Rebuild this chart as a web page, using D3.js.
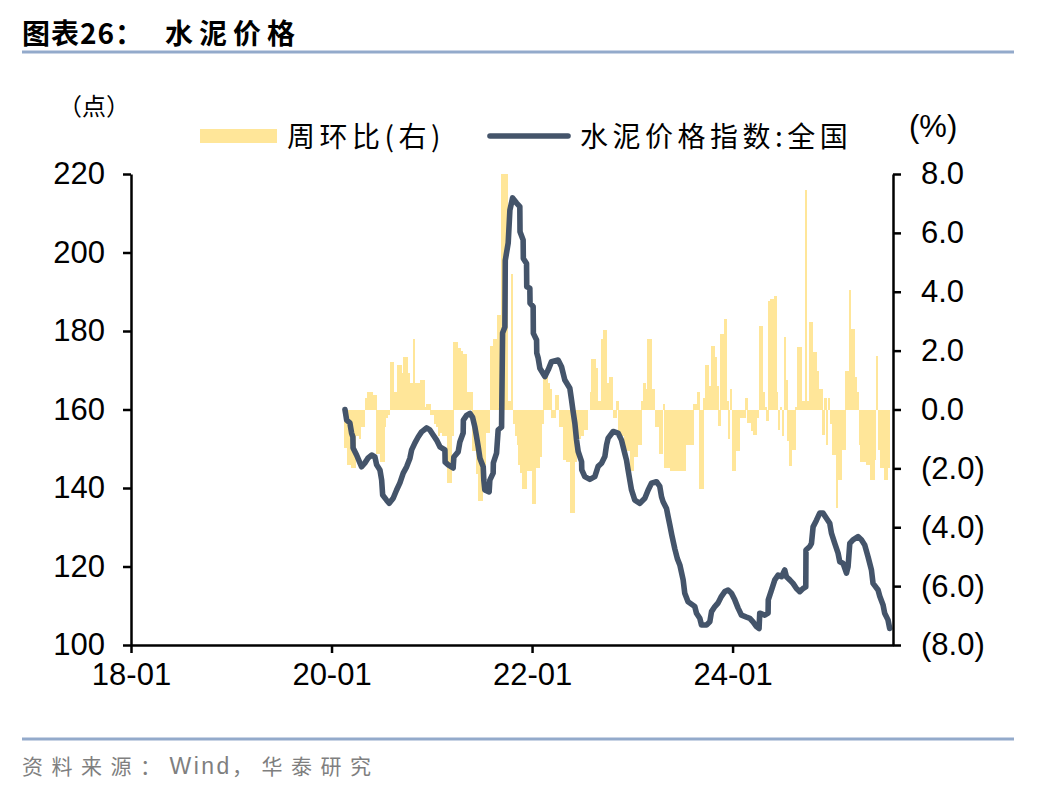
<!DOCTYPE html>
<html><head><meta charset="utf-8">
<script src="https://cdn.jsdelivr.net/npm/d3@7"></script>
<style>
html,body{margin:0;padding:0;background:#fff;}
svg{display:block;}
</style></head>
<body>
<svg id="chart" width="1048" height="792"></svg>
<script>
// ---------- DATA ----------
const titleText = "图表26：";
const titleText2 = "水泥价格";
const sourceParts = ["资料来源：", "Wind", "，华泰研究"];
const legendBarLabel = "周环比(右)";
const legendLineLabel = "水泥价格指数:全国";
const leftUnit = "（点）";
const rightUnit = "(%)";

const xTickYears = [2018, 2020, 2022, 2024];
const leftTicks = [100, 120, 140, 160, 180, 200, 220];
const rightTicks = [-8, -6, -4, -2, 0, 2, 4, 6, 8];

// cement price index (decimal year, value)
const lineDates = [2020.134,2020.151,2020.183,2020.200,2020.213,2020.215,2020.250,2020.283,2020.300,2020.333,2020.363,2020.400,2020.433,2020.450,2020.483,2020.500,2020.510,2020.549,2020.575,2020.615,2020.649,2020.682,2020.715,2020.749,2020.782,2020.799,2020.832,2020.864,2020.898,2020.948,2020.981,2021.014,2021.048,2021.081,2021.131,2021.133,2021.164,2021.213,2021.220,2021.263,2021.280,2021.313,2021.315,2021.347,2021.380,2021.407,2021.430,2021.447,2021.463,2021.480,2021.513,2021.519,2021.529,2021.572,2021.579,2021.612,2021.614,2021.646,2021.662,2021.696,2021.706,2021.729,2021.733,2021.762,2021.779,2021.806,2021.846,2021.878,2021.880,2021.911,2021.913,2021.945,2021.947,2021.978,2021.980,2022.011,2022.013,2022.045,2022.047,2022.061,2022.078,2022.128,2022.161,2022.194,2022.260,2022.294,2022.327,2022.377,2022.394,2022.410,2022.427,2022.444,2022.460,2022.494,2022.496,2022.526,2022.576,2022.626,2022.659,2022.693,2022.726,2022.743,2022.759,2022.809,2022.858,2022.892,2022.925,2022.942,2022.958,2022.975,2022.992,2023.025,2023.075,2023.125,2023.158,2023.191,2023.241,2023.274,2023.291,2023.307,2023.341,2023.357,2023.374,2023.394,2023.424,2023.449,2023.474,2023.507,2023.523,2023.556,2023.623,2023.640,2023.673,2023.690,2023.740,2023.773,2023.790,2023.823,2023.855,2023.889,2023.922,2023.955,2023.989,2024.022,2024.055,2024.089,2024.139,2024.172,2024.204,2024.238,2024.264,2024.271,2024.321,2024.354,2024.356,2024.388,2024.421,2024.454,2024.488,2024.520,2024.537,2024.570,2024.603,2024.637,2024.670,2024.703,2024.730,2024.732,2024.770,2024.787,2024.803,2024.837,2024.869,2024.902,2024.936,2024.969,2024.986,2025.019,2025.052,2025.069,2025.102,2025.136,2025.152,2025.169,2025.201,2025.251,2025.285,2025.318,2025.351,2025.385,2025.401,2025.451,2025.468,2025.501,2025.517,2025.550,2025.567];
const lineValues = [160,157.3,156.6,154,153,150.2,148.4,146.4,145.4,146.4,147.6,148.4,147.9,145.9,144.6,142,138.2,136.9,136.1,137.4,139.5,141.3,143.8,145.4,147.6,149.7,151.5,153,154.3,155.3,154.8,153.5,152.2,150.5,149.7,146.6,145.9,145.1,147.9,149.2,151.7,154,157.3,158.5,159,158,155.5,153,150.5,147.6,145.4,142,139.5,139,142,143.8,146.4,148.9,154.8,155.5,179.5,181,198,202.4,210.8,213.9,212.6,211.7,205.3,203.2,198.5,197.2,191.3,190.9,187.1,186.2,179.4,177.7,174.4,173.1,170.5,168.4,170.1,172.2,172.6,170.9,167.5,165.4,162.4,159.4,156.5,152.2,149.3,146.7,144.6,142.9,142.2,142.9,145.5,146.3,148,151,152.7,154.4,154,152.2,148.8,147.1,144.6,142,139.5,136.9,136.1,137.4,139.5,141.2,141.6,140.4,137.8,136.5,134.8,132.7,130.6,128,124.5,122,120.4,116.6,113.2,111,109.8,108.1,106.8,105.1,105.1,105.9,108.5,109.8,110.7,112.4,113.6,114,113.2,111.5,109.4,107.6,107.1,106.8,105.9,104.7,104.2,108.1,107.6,108.1,111.5,114,116.6,117.8,117.4,119.1,117.4,116.6,115.7,114.4,113.6,114.4,114.8,124.2,125.1,125.9,130.1,131.8,133.6,133.6,132.3,131,128.5,125.9,123.4,121.2,120.8,118.3,120,125.9,126.8,127.6,126.8,125.5,122.5,119.1,115.7,114,112.4,110.2,108.1,106.4,104.2];

// week-on-week change (%), weekly from barStartYear
const barStartYear = 2020.13;
const barValues = [
-1.3,-1.3,-1.9,-1.9,-2.0,-2.0,-0.9,-0.9,-1.0,-0.6,
-0.6,0.4,0.6,0.6,0.6,0.5,0.5,-1.5,-1.5,-1.8,
-1.8,-0.6,-0.3,-0.2,1.6,1.6,0.6,0.6,1.5,1.5,
1.25,1.8,1.8,1.25,0.9,0.9,2.4,0.9,0.9,0.9,
1.0,1.0,0.1,0.2,0.2,-0.2,-0.2,-0.5,-0.6,-0.9,
-0.8,-0.9,-0.9,-0.9,-2.5,-2.5,-0.9,2.3,2.3,2.1,
2.1,2.0,1.9,1.9,0.6,0.6,0.6,-1.4,-1.4,-2.2,
-3.1,-3.1,-1.9,-1.9,-0.8,-0.8,2.15,2.15,2.4,2.4,
3.2,3.2,9,10,9,0.3,0.3,4.6,-0.5,-0.9,
-1.2,-1.9,-2.15,-2.7,-2.7,-2.1,-2.1,-2.1,-3.2,-3.2,
-2.0,-2.0,-1.6,-0.5,1.3,1.3,0.9,0.7,-0.3,-0.3,
0.5,0.5,-0.6,-0.6,-1.7,-1.7,-1.8,-1.8,-3.5,-3.5,
-1.8,-1.0,-1.0,-0.9,-0.9,-0.7,-0.7,0.0,0.6,1.7,
1.7,1.4,0.3,0.3,2.4,2.7,2.7,0.9,1.1,1.1,
-0.3,-0.3,0.3,-0.9,-0.9,-0.9,-1.4,-1.4,-1.4,-2.1,
-2.1,-1.6,-1.6,-1.2,-1.2,0.3,0.9,0.7,2.4,2.4,
0.7,0.7,-0.6,-0.6,-1.5,-1.5,0.2,-2.0,-2.0,-2.0,
-2.1,-2.1,-2.1,-2.1,-2.1,-2.1,-2.1,-2.1,-1.2,-1.2,
-1.2,-1.2,0.2,0.2,0.6,-2.7,-2.7,0.4,1.5,1.5,
0.8,2.15,2.15,1.8,0.8,-0.57,2.55,2.55,3.06,0.3,
-1.0,0.7,-2.1,-2.1,-1.4,-1.4,-0.3,-0.3,-0.3,0.4,
-0.45,-0.45,-0.74,-0.85,-0.85,-0.3,2.85,2.85,0.6,0.1,
-0.4,3.67,3.77,3.77,3.87,0.6,-0.68,0.1,-0.9,2.45,
1.0,-1.08,-1.92,-1.36,-1.36,0.1,2.14,2.14,0.3,0.3,
7.44,0.3,2.96,2.96,1.94,1.94,1.32,0.7,0.7,-0.85,
0.4,-1.19,0.4,-0.5,-1.53,-1.53,-3.34,-2.38,-2.38,-1.36,
-1.36,1.32,1.32,4.07,2.75,2.75,1.12,0.6,-1.19,-1.8,
-1.8,-1.8,-1.9,-1.9,-2.38,-2.38,-1.7,1.83,-1.36,-2.0,
-2.0,-2.4,-2.4,-2.0];

// ---------- STYLE / LAYOUT ----------
const colLine = "#44546a", colBar = "#ffe699", colRule = "#93aacb";
const latin = "'Liberation Sans', Arial, sans-serif";
const cjk = "'Noto Sans CJK SC', sans-serif";
const plot = {left:131, right:893, top:174, bottom:645};

const svg = d3.select("#chart");

const x = d3.scaleLinear().domain([2018, 2025.6]).range([plot.left, plot.right]);
const yL = d3.scaleLinear().domain([100, 220]).range([plot.bottom, plot.top]);
const yR = d3.scaleLinear().domain([-8, 8]).range([plot.bottom, plot.top]);
const weekYr = 7/365.25;

// title & rules
svg.append("text").attr("x",22).attr("y",44).attr("font-family",cjk).attr("font-weight",700)
  .attr("font-size",28).attr("letter-spacing",1).attr("fill","#000").text(titleText);
svg.append("text").attr("x",165).attr("y",44).attr("font-family",cjk).attr("font-weight",700)
  .attr("font-size",28).attr("letter-spacing",6).attr("fill","#000").text(titleText2);
svg.append("line").attr("x1",22).attr("x2",1014).attr("y1",52).attr("y2",52)
  .attr("stroke",colRule).attr("stroke-width",3);
svg.append("line").attr("x1",22).attr("x2",1014).attr("y1",739).attr("y2",739)
  .attr("stroke",colRule).attr("stroke-width",3);
const src = svg.append("text").attr("x",22).attr("y",774).attr("fill","#7f7f7f");
src.append("tspan").attr("font-family",cjk).attr("font-size",21).attr("letter-spacing",8.5).text(sourceParts[0]);
src.append("tspan").attr("font-family",latin).attr("font-size",23).attr("letter-spacing",2.5).text(sourceParts[1]);
src.append("tspan").attr("font-family",cjk).attr("font-size",21).attr("letter-spacing",8.5).text(sourceParts[2]);

// clip
svg.append("clipPath").attr("id","clip").append("rect")
  .attr("x",plot.left).attr("y",plot.top).attr("width",plot.right-plot.left).attr("height",plot.bottom-plot.top);

// bars
const bw = x(2020+weekYr) - x(2020);
svg.append("g").attr("clip-path","url(#clip)").selectAll("rect").data(barValues).join("rect")
  .attr("x",(d,i)=> x(barStartYear + i*weekYr) - bw/2)
  .attr("width", bw + 0.6)
  .attr("y", d => Math.min(yR(d), yR(0)))
  .attr("height", d => Math.abs(yR(d) - yR(0)))
  .attr("fill", colBar).attr("shape-rendering","crispEdges");

// line
const pts = lineDates.map((d,i)=>[d, lineValues[i]]);
svg.append("path").datum(pts)
  .attr("fill","none").attr("stroke",colLine).attr("stroke-width",5.6)
  .attr("stroke-linejoin","round").attr("stroke-linecap","round")
  .attr("d", d3.line().x(d=>x(d[0])).y(d=>yL(d[1])));

// axes
const fmtR = d => d < 0 ? "(" + Math.abs(d).toFixed(1) + ")" : d.toFixed(1);
const gL = svg.append("g").attr("transform",`translate(${plot.left},0)`)
  .call(d3.axisLeft(yL).tickValues(leftTicks).tickSize(8).tickPadding(18).tickSizeOuter(0));
const gR = svg.append("g").attr("transform",`translate(${plot.right},0)`)
  .call(d3.axisRight(yR).tickValues(rightTicks).tickSize(8).tickPadding(20).tickSizeOuter(0).tickFormat(fmtR));
const gB = svg.append("g").attr("transform",`translate(0,${plot.bottom})`)
  .call(d3.axisBottom(x).tickValues(xTickYears).tickSize(8).tickPadding(10).tickSizeOuter(0)
    .tickFormat(d => String(d).slice(2) + "-01"));
[gL,gR,gB].forEach(g=>{
  g.select(".domain").attr("stroke","#000").attr("stroke-width",2.5);
  g.selectAll(".tick line").attr("stroke","#000").attr("stroke-width",2.5);
  g.selectAll("text").attr("font-family",latin).attr("font-size",31).attr("fill","#000");
});
gR.selectAll("text").attr("text-anchor","start");

// unit labels
svg.append("text").attr("x",58).attr("y",115).attr("font-family",cjk).attr("font-size",24)
  .attr("fill","#000").text(leftUnit);
svg.append("text").attr("x",909).attr("y",137).attr("font-family",latin).attr("font-size",31)
  .attr("fill","#000").text(rightUnit);

// legend
svg.append("rect").attr("x",200).attr("y",129).attr("width",77).attr("height",14).attr("fill",colBar);
svg.append("text").attr("x",287).attr("y",147).attr("font-family",cjk).attr("font-size",28)
  .attr("letter-spacing",4.5).attr("fill","#000").text(legendBarLabel);
svg.append("line").attr("x1",490).attr("x2",568).attr("y1",136).attr("y2",136)
  .attr("stroke",colLine).attr("stroke-width",5.6).attr("stroke-linecap","round");
svg.append("text").attr("x",580).attr("y",147).attr("font-family",cjk).attr("font-size",28)
  .attr("letter-spacing",4.5).attr("fill","#000").text(legendLineLabel);
</script>
</body></html>
